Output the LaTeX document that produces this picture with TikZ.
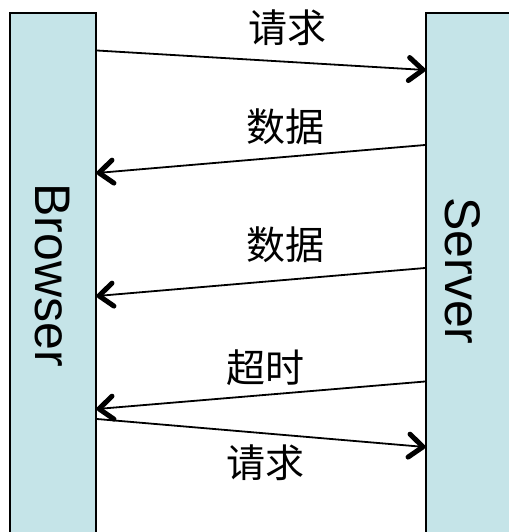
\documentclass[tikz,border=0pt]{standalone}
\usepackage{fontspec}
\setmainfont{Liberation Sans}
\newfontfamily\cjk{Noto Sans CJK SC}
\usetikzlibrary{decorations.markings}
\definecolor{boxfill}{RGB}{197,228,232}
\begin{document}
\begin{tikzpicture}[x=1pt,y=-1pt,
  lane/.style={draw=black,line width=2pt,fill=boxfill,minimum width=#1,minimum height=540pt,inner sep=0pt},
  lanetext/.style={font=\fontsize{50}{60}\selectfont,rotate=-90},
  msg/.style={line width=1.8pt,postaction={decorate},
    decoration={markings,mark=at position 1 with {\draw[line width=5pt,line cap=round,line join=round] (-16pt,11.5pt) -- (-2pt,0pt) -- (-16pt,-11.5pt);}}},
  lbl/.style={font=\cjk\fontsize{39}{44}\selectfont,inner sep=0pt}]
\useasboundingbox (0,0) rectangle (508,532);
\node[lane=86pt] (browser) at (53,283) {};
\node[lane=94pt] (server) at (473,283) {};
\node[lanetext] (btxt) at (52,275) {Browser};
\node[lanetext] (stxt) at (463,271) {Server};
\coordinate (b1) at (browser.east |- 0,50.5);
\coordinate (s1) at (server.west |- 0,70);
\coordinate (s2) at (server.west |- 0,145);
\coordinate (b2) at (browser.east |- 0,173);
\coordinate (s3) at (server.west |- 0,268);
\coordinate (b3) at (browser.east |- 0,296);
\coordinate (s4) at (server.west |- 0,381.5);
\coordinate (b4) at (browser.east |- 0,409);
\coordinate (b5) at (browser.east |- 0,419);
\coordinate (s5) at (server.west |- 0,447);
\draw[msg] (b1) -- (s1);
\draw[msg] (s2) -- (b2);
\draw[msg] (s3) -- (b3);
\draw[msg] (s4) -- (b4);
\draw[msg] (b5) -- (s5);
\node[lbl] (l1) at (287,28) {请求};
\node[lbl] (l2) at (285,127) {数据};
\node[lbl] (l3) at (285,245) {数据};
\node[lbl] (l4) at (265,368) {超时};
\node[lbl] (l5) at (265,463) {请求};
\end{tikzpicture}
\end{document}
